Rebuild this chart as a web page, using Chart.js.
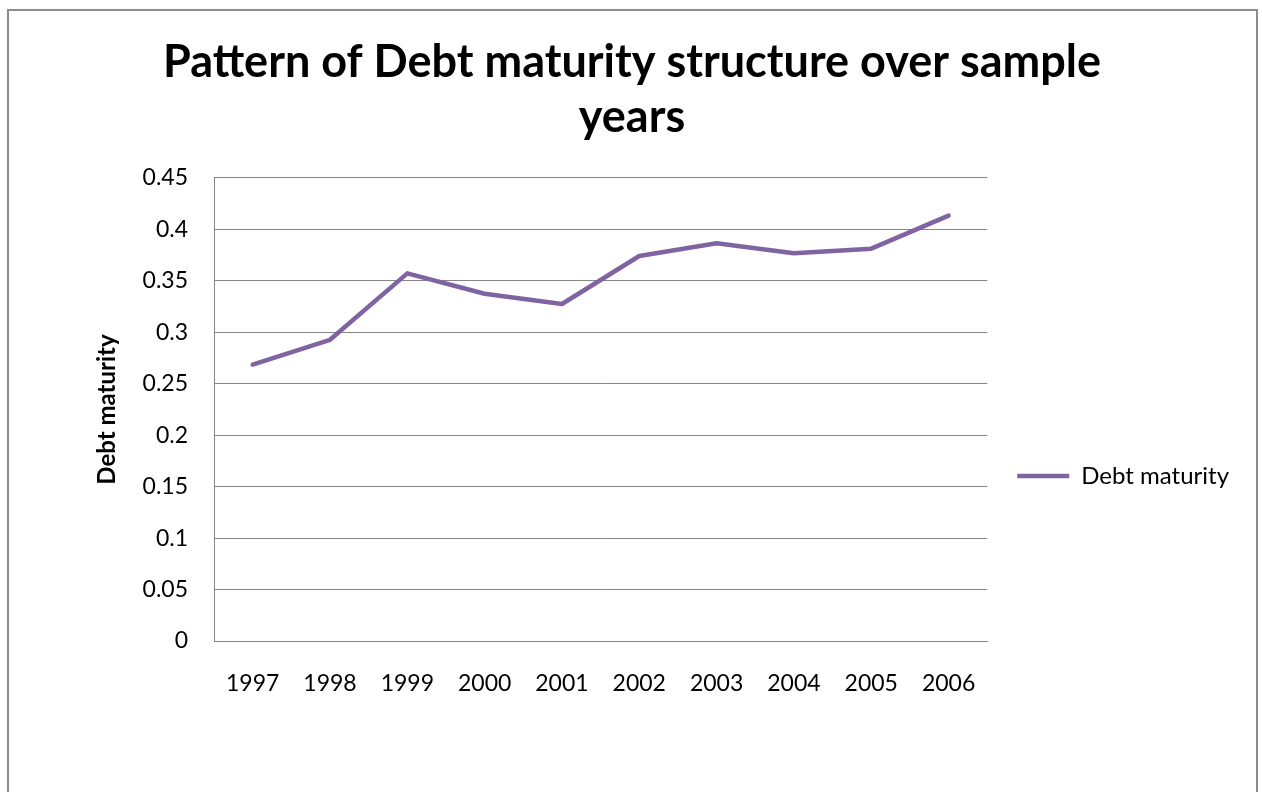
<!DOCTYPE html>
<html>
<head>
<meta charset="utf-8">
<script src="https://cdn.jsdelivr.net/npm/chart.js@4.4.1/dist/chart.umd.min.js"></script>
<style>
  html, body { margin: 0; padding: 0; background: #fff; overflow: hidden; }
  #frame {
    position: absolute; left: 7px; top: 9px; width: 1251px; height: 820px;
    border: 2px solid #8c8c8c; box-sizing: border-box;
  }
  #wrap { position: absolute; left: 0; top: 0; width: 1262px; height: 792px; }
</style>
</head>
<body>
<div id="frame"></div>
<div id="wrap"><canvas id="debtChart" width="1262" height="792"></canvas></div>
<script>
// chart data
const years = ["1997", "1998", "1999", "2000", "2001", "2002", "2003", "2004", "2005", "2006"];
const debtMaturity = [0.2687, 0.2927, 0.3573, 0.3375, 0.3275, 0.3742, 0.3865, 0.3768, 0.3813, 0.4134];
const titleLines = ["Pattern of Debt maturity structure over sample", "years"];
const yMin = 0, yMax = 0.45, yStep = 0.05;

const FONT = "Lato, 'Open Sans', sans-serif";

let ctx = document.getElementById("debtChart").getContext("2d");

new Chart(ctx, {
    type: "line",
    data: {
        labels: years,
        datasets: [
            {
                label: "Debt maturity",
                data: debtMaturity,
                borderColor: "#8064a2",
                backgroundColor: "#8064a2",
                borderWidth: 4.5,
                pointRadius: 0,
                tension: 0,
                borderCapStyle: "round",
                borderJoinStyle: "round"
            }
        ]
    },
    options: {
        responsive: false,
        animation: false,
        layout: { padding: { top: 10, left: 25, right: 23, bottom: 0 } },
        scales: {
            x: {
                offset: true,
                grid: { display: false, drawTicks: false },
                border: { display: true, color: "#868686", width: 1 },
                ticks: { color: "#000", font: { family: FONT, size: 23 }, padding: 29, maxRotation: 0 },
                afterFit: function (scale) { scale.height = 151; }
            },
            y: {
                min: yMin,
                max: yMax,
                grid: { color: "#868686", lineWidth: 1, drawTicks: false },
                border: { display: true, color: "#868686", width: 1 },
                ticks: {
                    stepSize: yStep,
                    color: "#000",
                    padding: 26,
                    font: { family: FONT, size: 23 },
                    callback: function (v) { return String(Math.round(v * 100) / 100); }
                },
                title: {
                    display: true,
                    text: "Debt maturity",
                    color: "#000",
                    font: { family: FONT, size: 24, weight: "bold" },
                    padding: { top: 68, bottom: 0 }
                },
                afterFit: function (scale) { scale.width = 189; }
            }
        },
        plugins: {
            title: {
                display: true,
                text: titleLines,
                color: "#000",
                font: { family: FONT, size: 45, weight: "bold", lineHeight: 1.222 },
                padding: { top: 25, bottom: 33 }
            },
            legend: {
                position: "right",
                title: {
                    display: true,
                    text: " ",
                    font: { size: 10, lineHeight: 1 },
                    padding: { top: 0, bottom: 140 }
                },
                labels: {
                    color: "#000",
                    font: { family: FONT, size: 24 },
                    usePointStyle: true,
                    pointStyle: "line",
                    pointStyleWidth: 52,
                    padding: 30
                }
            },
            tooltip: { enabled: false }
        }
    }
});
</script>
</body>
</html>
